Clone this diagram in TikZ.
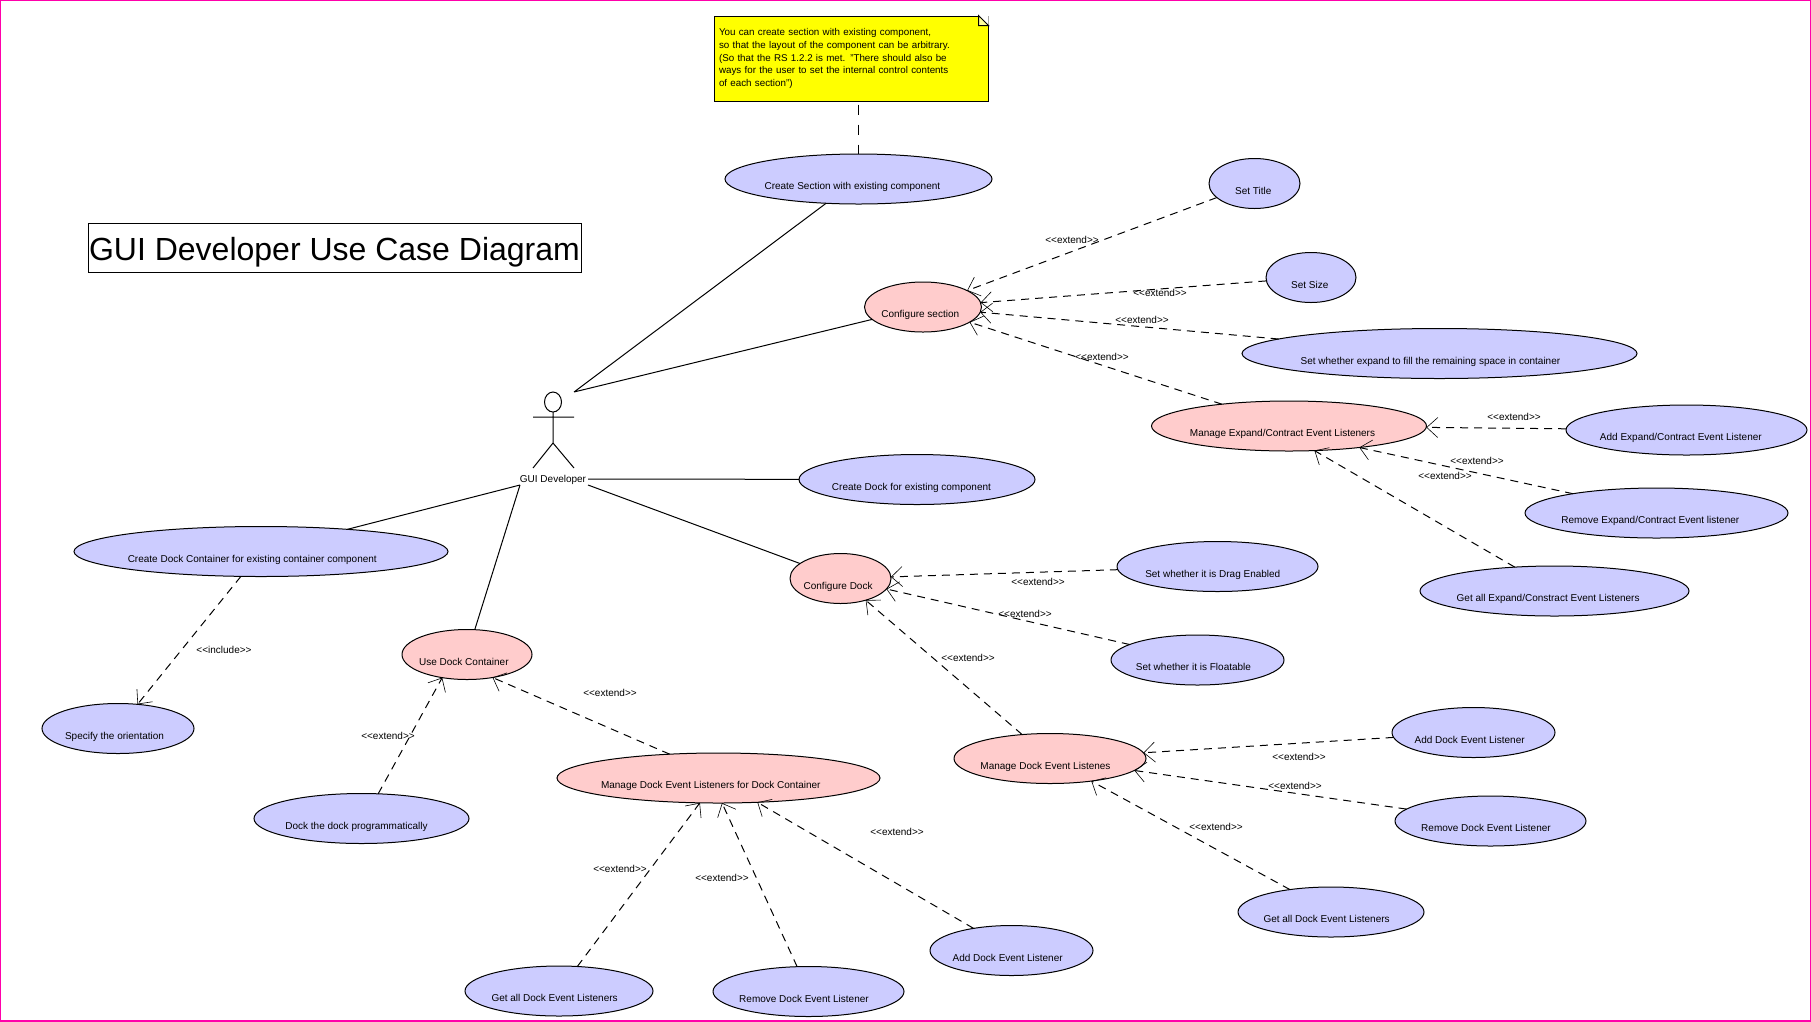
\documentclass[tikz,border=0pt]{standalone}
\usepackage{fontspec}
\setmainfont{Liberation Sans}
\usetikzlibrary{arrows.meta,shapes.geometric}
\definecolor{caseblue}{RGB}{204,204,255}
\definecolor{casepink}{RGB}{255,204,204}
\definecolor{noteyellow}{RGB}{255,255,0}
\definecolor{framepink}{RGB}{255,0,170}
\begin{document}
\begin{tikzpicture}[x=1pt, y=-1pt, line width=1pt,
  every node/.style={font=\fontsize{10}{13}\selectfont},
  bluecase/.style={fill=caseblue},
  pinkcase/.style={fill=casepink},
  ext/.style={dashed, dash pattern=on 8pt off 6pt, -{Straight Barb[length=11pt, width=20pt, line width=.6pt]}},
  tag/.style={inner sep=0}]
  \def\mycase#1#2#3#4#5{
    \node[#1, draw, ellipse, inner xsep=-40pt, inner ysep=0, outer sep=0,
    minimum width=#4, minimum height=50, text height=21pt, text depth=0pt]
    (#2) at #3 {\sbox0{#5}\usebox0\kern.07\wd0\relax};
  }
  \useasboundingbox (0,0) rectangle (1811,1021);
  \draw[framepink, line width=2pt] (0,0) rectangle (1811,1021);

  % title and note
  \node[draw, line width=.8pt, minimum width=493, minimum height=49, inner sep=0,
  text height=25pt, text depth=0pt,
  font=\fontsize{32}{36}\selectfont] (title) at (334.5,247.5) {GUI Developer Use Case Diagram};

  \node[draw, fill=noteyellow, text width=264, minimum height=85, inner xsep=5, inner ysep=0,
  align=left, font=\fontsize{9.8}{12.8}\selectfont] (note) at (851,58.5)
  {You can create section with existing component,\\
    so that the layout of the component can be arbitrary.\\
    (So that the RS 1.2.2 is met. "There should also be\\
    ways for the user to set the internal control contents\\
  of each section")};
  \fill[white] ([xshift=-10]note.north east) -- (note.north east) -- ([yshift=-10]note.north east) -- cycle;
  \draw[fill=noteyellow!40] ([xshift=-10]note.north east) -- ([xshift=-10,yshift=-10]note.north east)
  -- ([yshift=-10]note.north east) -- cycle;

  % actor
  \coordinate (devhead) at (553,402);
  \draw (devhead) ellipse (8.5 and 10);
  \draw (533,417) -- (574,417) (553,412) -- (553,443) (533,468) -- (553,443) -- (574,468);
  \node[tag] (dev) at (553,480) {GUI Developer};
  \coordinate (devtop) at (574,392);
  \coordinate (devleft) at (520,485);
  \coordinate (devright) at (588,479);
  \coordinate (devlow) at (588,485);

  % use cases
  \mycase{bluecase}{createsec}{(858.5,179)}{267}{Create Section with existing component}
  \mycase{pinkcase}{confsec}{(923,307)}{117}{Configure section}
  \mycase{bluecase}{settitle}{(1254.5,183.5)}{91}{Set Title}
  \mycase{bluecase}{setsize}{(1311,277.5)}{90}{Set Size}
  \mycase{bluecase}{setexpand}{(1439.5,353.5)}{395}{Set whether expand to fill the remaining space in container}
  \mycase{pinkcase}{manexpand}{(1289,426)}{275}{Manage Expand/Contract Event Listeners}
  \mycase{bluecase}{addexpand}{(1686.5,430)}{241}{Add Expand/Contract Event Listener}
  \mycase{bluecase}{remexpand}{(1656.5,513)}{263}{Remove Expand/Contract Event listener}
  \mycase{bluecase}{getexpand}{(1554.5,591)}{269}{Get all Expand/Constract Event Listeners}
  \mycase{bluecase}{createdock}{(917,479.5)}{236}{Create Dock for existing component}
  \mycase{pinkcase}{confdock}{(840.5,578.5)}{101}{Configure Dock}
  \mycase{bluecase}{setdrag}{(1217.5,566.5)}{201}{Set whether it is Drag Enabled}
  \mycase{bluecase}{setfloat}{(1197.5,660)}{173}{Set whether it is Floatable}
  \mycase{pinkcase}{mandock}{(1050,758.5)}{192}{Manage Dock Event Listenes}
  \mycase{bluecase}{adddock}{(1473.5,732.5)}{163}{Add Dock Event Listener}
  \mycase{bluecase}{remdock}{(1490.5,821)}{191}{Remove Dock Event Listener}
  \mycase{bluecase}{getdock}{(1331,912)}{186}{Get all Dock Event Listeners}
  \mycase{bluecase}{createcont}{(261,551.5)}{374}{Create Dock Container for existing container component}
  \mycase{bluecase}{orient}{(118,728.5)}{152}{Specify the orientation}
  \mycase{pinkcase}{usecont}{(467,654.5)}{130}{Use Dock Container}
  \mycase{bluecase}{dockprog}{(361.5,818.5)}{215}{Dock the dock programmatically}
  \mycase{pinkcase}{mancont}{(718.5,778)}{323}{Manage Dock Event Listeners for Dock Container}
  \mycase{bluecase}{getcont}{(559,991)}{188}{Get all Dock Event Listeners}
  \mycase{bluecase}{remcont}{(808.5,991.5)}{191}{Remove Dock Event Listener}
  \mycase{bluecase}{addcont}{(1011.5,950.5)}{163}{Add Dock Event Listener}

  % connectors
  \draw[dash pattern=on 10pt off 10pt] (note.south -| createsec) ++(0,3) -- (createsec.north);
  \draw (devtop) -- (createsec) (devtop) -- (confsec)
  (devright) -- (createdock) (devlow) -- (confdock)
  (devleft) -- (createcont) (devleft) -- (usecont);

  \draw[ext] (settitle) -- (confsec);
  \draw[ext] (setsize) -- (confsec);
  \draw[ext] (setexpand) -- (confsec);
  \draw[ext] (manexpand) -- (confsec);
  \draw[ext] (addexpand) -- (manexpand);
  \draw[ext] (remexpand.167) -- (manexpand.-17);
  \draw[ext] (getexpand.149) -- (manexpand.-44);
  \draw[ext] (setdrag) -- (confdock);
  \draw[ext] (setfloat) -- (confdock);
  \draw[ext] (mandock) -- (confdock);
  \draw[ext] (adddock) -- (mandock);
  \draw[ext] (remdock) -- (mandock);
  \draw[ext] (getdock) -- (mandock);
  \draw[ext] (createcont) -- (orient);
  \draw[ext] (dockprog.56) -- (usecont.-137);
  \draw[ext] (mancont.154) -- (usecont.-42);
  \draw[ext] (getcont) -- (mancont);
  \draw[ext] (remcont) -- (mancont.-82);
  \draw[ext] (addcont) -- (mancont.-32);

  % connector labels
  \node[tag] (ext1) at (1072,240) {<{}<extend>{}>};
  \node[tag] (ext2) at (1160,293) {<{}<extend>{}>};
  \node[tag] (ext3) at (1142,320) {<{}<extend>{}>};
  \node[tag] (ext4) at (1102,357) {<{}<extend>{}>};
  \node[tag] (ext5) at (1514,417) {<{}<extend>{}>};
  \node[tag] (ext6) at (1477,461) {<{}<extend>{}>};
  \node[tag] (ext7) at (1445,476) {<{}<extend>{}>};
  \node[tag] (ext8) at (1038,582) {<{}<extend>{}>};
  \node[tag] (ext9) at (1025,614) {<{}<extend>{}>};
  \node[tag] (ext10) at (968,658) {<{}<extend>{}>};
  \node[tag] (ext11) at (1299,757) {<{}<extend>{}>};
  \node[tag] (ext12) at (1295,786) {<{}<extend>{}>};
  \node[tag] (ext13) at (1216,827) {<{}<extend>{}>};
  \node[tag] (inc1) at (224,650) {<{}<include>{}>};
  \node[tag] (ext15) at (388,736) {<{}<extend>{}>};
  \node[tag] (ext16) at (610,693) {<{}<extend>{}>};
  \node[tag] (ext17) at (620,869) {<{}<extend>{}>};
  \node[tag] (ext18) at (722,878) {<{}<extend>{}>};
  \node[tag] (ext19) at (897,832) {<{}<extend>{}>};
\end{tikzpicture}
\end{document}
